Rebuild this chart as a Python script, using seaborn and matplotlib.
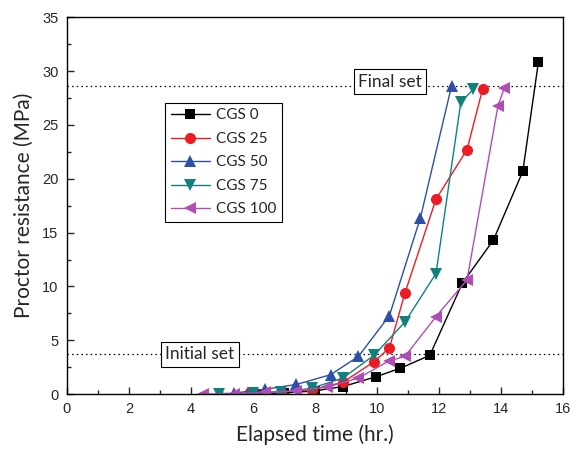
import numpy as np
import pandas as pd
import matplotlib
matplotlib.use("Agg")
import matplotlib.pyplot as plt
import seaborn as sns
from matplotlib.ticker import MultipleLocator

series_names = ["CGS 0", "CGS 25", "CGS 50", "CGS 75", "CGS 100"]

cgs0_x = [6.3, 7.0, 8.0, 8.9, 9.95, 10.75, 11.7, 12.75, 13.75, 14.7, 15.2]
cgs0_y = [0.05, 0.1, 0.3, 0.7, 1.6, 2.4, 3.6, 10.3, 14.3, 20.7, 30.8]

cgs25_x = [5.9, 6.9, 7.9, 8.9, 9.9, 10.4, 10.9, 11.9, 12.9, 13.4]
cgs25_y = [0.2, 0.2, 0.4, 1.1, 3.0, 4.3, 9.4, 18.1, 22.7, 28.3]

cgs50_x = [5.4, 6.4, 7.4, 8.5, 9.4, 10.4, 11.4, 12.4]
cgs50_y = [0.1, 0.45, 0.9, 1.8, 3.5, 7.3, 16.4, 28.6]

cgs75_x = [4.9, 6.0, 6.9, 7.9, 8.9, 9.9, 10.9, 11.9, 12.7, 13.1]
cgs75_y = [0.05, 0.1, 0.15, 0.55, 1.5, 3.6, 6.7, 11.2, 27.1, 28.3]

cgs100_x = [4.4, 5.4, 6.4, 7.4, 8.4, 9.4, 10.4, 10.9, 11.9, 12.9, 13.9, 14.1]
cgs100_y = [0.0, 0.05, 0.15, 0.3, 0.65, 1.5, 3.1, 3.5, 7.2, 10.6, 26.8, 28.4]

initial_set = 3.7
final_set = 28.6

xs = [cgs0_x, cgs25_x, cgs50_x, cgs75_x, cgs100_x]
ys = [cgs0_y, cgs25_y, cgs50_y, cgs75_y, cgs100_y]
frames = []
for name, x, y in zip(series_names, xs, ys):
    frames.append(pd.DataFrame({"time": x, "resistance": y, "mix": name}))
df = pd.concat(frames, ignore_index=True)

colors = ["#000000", "#ED1C24", "#2E4FA8", "#11807F", "#B04DB2"]
markers = ["s", "o", "^", "v", "<"]
msizes = [6.5, 8, 8.5, 8.5, 8.5]
palette = dict(zip(series_names, colors))
marker_map = dict(zip(series_names, markers))
size_map = dict(zip(series_names, msizes))

sns.set_theme(style="ticks")
plt.rcParams["font.family"] = ["Liberation Sans", "DejaVu Sans"]
label_font = ["Lato", "DejaVu Sans"]

fig = plt.figure(figsize=(5.77, 4.53), dpi=100)
ax = fig.add_axes([0.116, 0.130, 0.860, 0.832])

for name in series_names:
    sub = df[df["mix"] == name]
    sns.lineplot(data=sub, x="time", y="resistance", ax=ax, sort=False,
                 estimator=None, color=palette[name], marker=marker_map[name],
                 markersize=size_map[name], markeredgewidth=0, linewidth=1.0,
                 label=name)

ax.axhline(final_set, color="black", linestyle=(0, (1.2, 2.5)), linewidth=0.9, zorder=0)
ax.axhline(initial_set, color="black", linestyle=(0, (1.2, 2.5)), linewidth=0.9, zorder=0)

box = dict(boxstyle="square,pad=0.25", facecolor="white", edgecolor="black", linewidth=0.8)
ax.text(10.42, 29.0, "Final set", fontsize=12.5, family=label_font,
        va="center", ha="center", bbox=box, zorder=3)
ax.text(4.29, initial_set, "Initial set", fontsize=12.5, family=label_font,
        va="center", ha="center", bbox=box, zorder=3)

ax.set_xlim(0, 16)
ax.set_ylim(0, 35)
ax.xaxis.set_major_locator(MultipleLocator(2))
ax.xaxis.set_minor_locator(MultipleLocator(1))
ax.yaxis.set_major_locator(MultipleLocator(5))
ax.yaxis.set_minor_locator(MultipleLocator(2.5))
ax.tick_params(which="major", direction="in", length=5, width=1, labelsize=10.5, pad=6)
ax.tick_params(which="minor", direction="in", length=3, width=1)
for s in ax.spines.values():
    s.set_linewidth(1.0)
    s.set_color("black")

ax.set_xlabel("Elapsed time (hr.)", fontsize=15, family=label_font, labelpad=6)
ax.set_ylabel("Proctor resistance (MPa)", fontsize=15, family=label_font, labelpad=6)

leg = ax.legend(loc="upper left", bbox_to_anchor=(0.198, 0.772), fontsize=11,
                frameon=True, fancybox=False, edgecolor="black", framealpha=1,
                handlelength=2.6, borderpad=0.35, borderaxespad=0,
                labelspacing=0.62, handletextpad=0.4)
leg.get_frame().set_linewidth(0.8)
for t in leg.get_texts():
    t.set_family(label_font)

fig.savefig("out.png", dpi=100)
